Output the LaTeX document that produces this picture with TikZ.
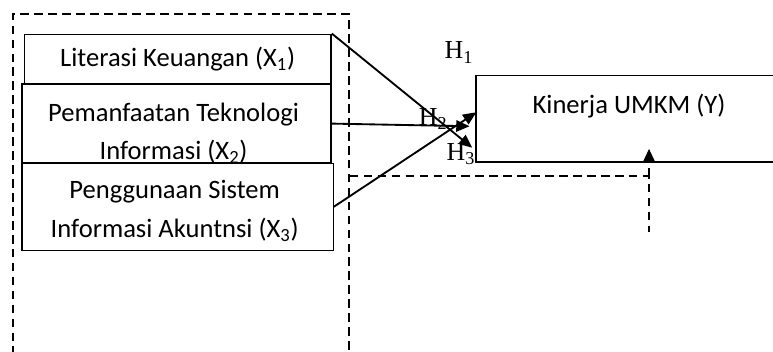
\documentclass[tikz,border=0pt]{standalone}
\usepackage{fontspec}
\setsansfont{Carlito}
\newfontfamily\hypfont{Liberation Serif}
\usetikzlibrary{arrows.meta,calc}
\tikzset{
  var/box/.style={
    draw=black, fill=white, line width=1pt,
    align=center, inner sep=2pt, font=\sffamily\fontsize{20}{29}\selectfont
  },
  var/group/.style={
    draw=black, line width=1.4pt, dash pattern=on 6.5pt off 4pt
  },
  var/dline/.style={black, line width=1.4pt, dash pattern=on 6.5pt off 4pt},
  var/arr/.style={-{Triangle[length=10pt,width=8.5pt]}, black, line width=1.4pt},
  var/hyp/.style={font=\hypfont\fontsize{19.5}{19.5}\selectfont, inner sep=0pt}
}
\begin{document}
\begin{tikzpicture}[x=1cm, y=1cm]
  \useasboundingbox (0,0) rectangle (20.45,9.29);
  \clip (0,0) rectangle (20.45,9.29);

  % --- Variabel bebas ---
  \node[var/group, minimum width=8.89cm, minimum height=9.22cm] (grp) at (4.785,4.31) {};
  \node[var/box, minimum width=8.12cm, minimum height=1.33cm] (x1) at (4.70,7.72)
    {Literasi Keuangan (X\textsubscript{1})};
  \node[var/box, minimum width=8.18cm, minimum height=2.09cm] (x2) at (4.67,6.02) {%
    \raisebox{-0.42cm}[0pt][0pt]{\begin{tabular}{@{}c@{}}
      Pemanfaatan Teknologi\\
      Informasi (X\textsubscript{2})
    \end{tabular}}
  };
  \node[var/box, minimum width=8.23cm, minimum height=2.30cm] (x3) at (4.70,3.82) {%
    \raisebox{-0.28cm}[0pt][0pt]{\begin{tabular}{@{}c@{}}
      Penggunaan Sistem\\
      Informasi Akuntnsi (X\textsubscript{3})
    \end{tabular}}
  };

  % --- Variabel terikat ---
  \node[var/box, minimum width=8.10cm, minimum height=2.30cm,
    label={[font=\sffamily\fontsize{20}{24}\selectfont, anchor=center, yshift=-0.84cm]north:Kinerja UMKM (Y)}]
    (kin) at (16.64,6.15) {};

  % --- Hipotesis ---
  \node[var/hyp] (h1) at (12.14,7.90) {H\textsubscript{1}};
  \node[var/hyp] (h2) at (11.46,6.14) {H\textsubscript{2}};
  \node[var/hyp] (h3) at (12.19,5.22) {H\textsubscript{3}};

  \draw[var/arr] (x1.north east) -- ($(kin.south west)+(-0.08,0.40)$);
  \draw[var/arr] (x2.east) -- ($(kin.west)+(-0.15,-0.20)$);
  \draw[var/arr] (x3.east) -- ($(kin.west)+(0.03,0.17)$);

  % --- Moderasi ---
  \coordinate (mod) at (17.17,4.63);
  \coordinate (modend) at (17.17,3.15);
  \draw[var/dline] (grp.east |- mod) -- (mod) -- (modend);
  \draw[var/dline, -{Triangle[length=10pt,width=9pt]}] (mod) -- ($(mod |- kin.south)+(0,0.37)$);
\end{tikzpicture}
\end{document}
